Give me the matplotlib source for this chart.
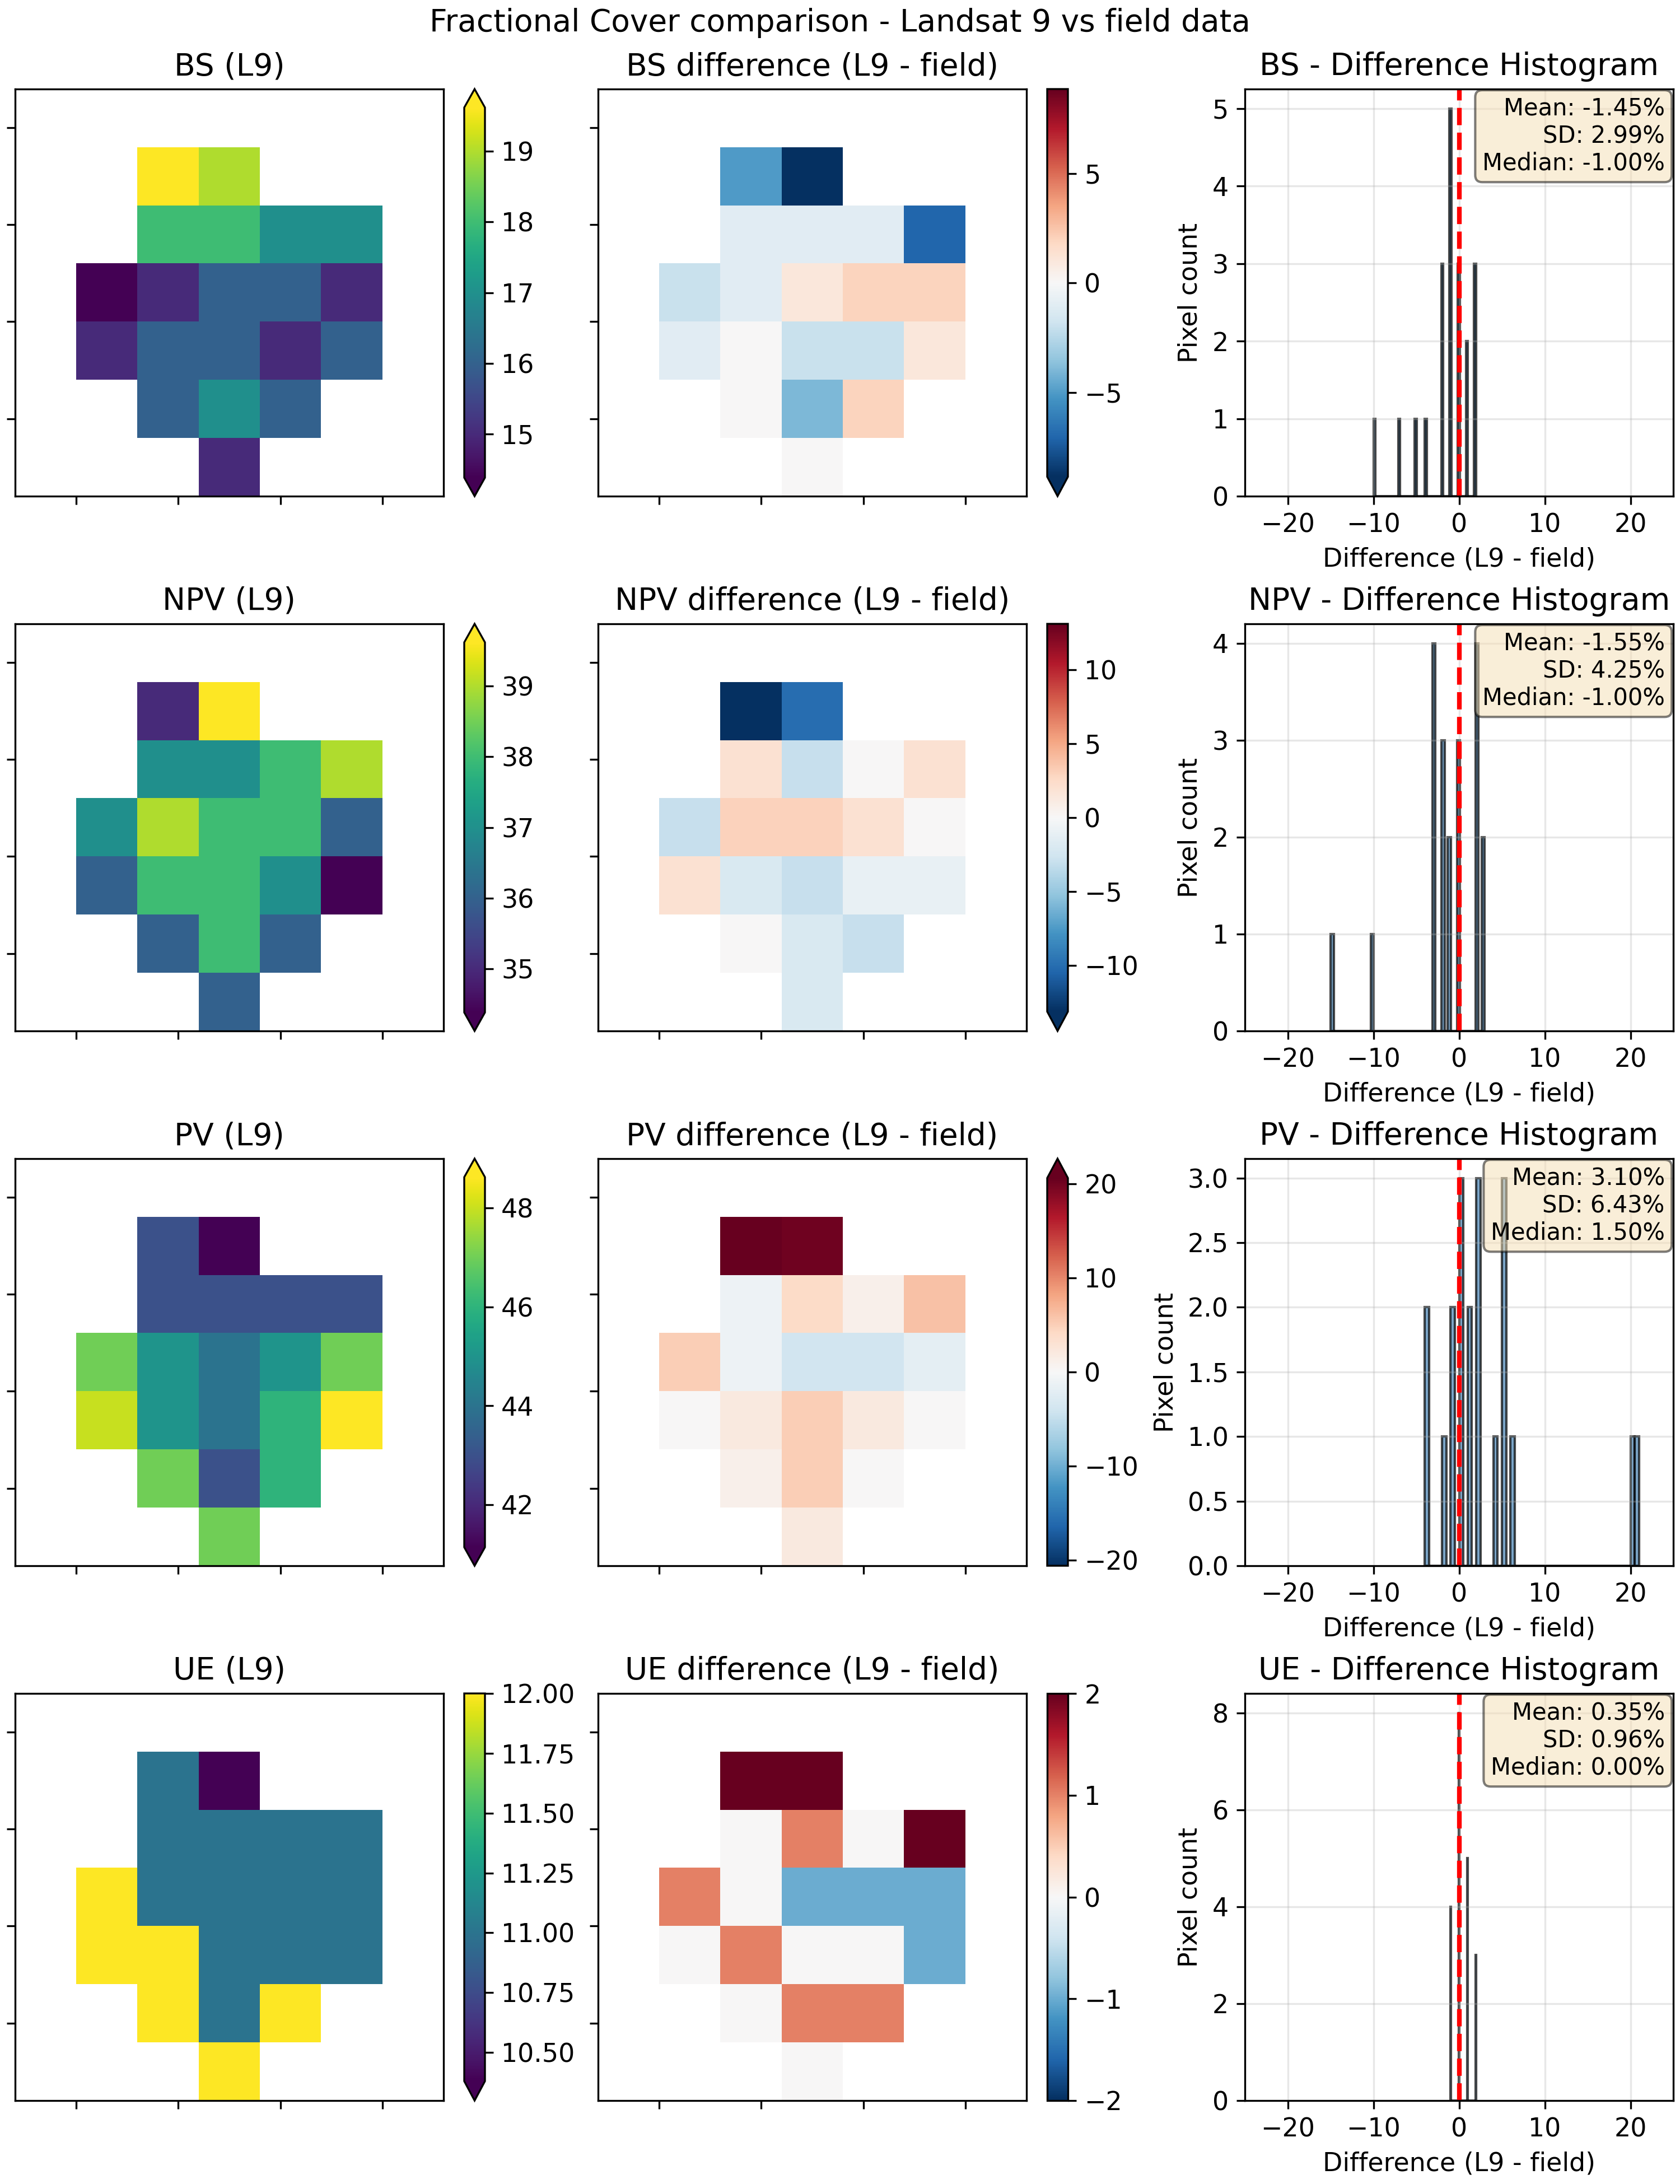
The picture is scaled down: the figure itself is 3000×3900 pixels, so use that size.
import numpy as np
import matplotlib
matplotlib.use('Agg')
import matplotlib.pyplot as plt

plt.rcParams['font.size'] = 11

nan = np.nan

# 7x7 pixel grids around the field site, NaN = outside the site
bs_l9 = [[nan, nan, nan, nan, nan, nan, nan],
         [nan, nan, 20, 19, nan, nan, nan],
         [nan, nan, 18, 18, 17, 17, nan],
         [nan, 14, 15, 16, 16, 15, nan],
         [nan, 15, 16, 16, 15, 16, nan],
         [nan, nan, 16, 17, 16, nan, nan],
         [nan, nan, nan, 15, nan, nan, nan]]
bs_diff = [[nan, nan, nan, nan, nan, nan, nan],
           [nan, nan, -5, -10, nan, nan, nan],
           [nan, nan, -1, -1, -1, -7, nan],
           [nan, -2, -1, 1, 2, 2, nan],
           [nan, -1, 0, -2, -2, 1, nan],
           [nan, nan, 0, -4, 2, nan, nan],
           [nan, nan, nan, 0, nan, nan, nan]]

npv_l9 = [[nan, nan, nan, nan, nan, nan, nan],
          [nan, nan, 35, 40, nan, nan, nan],
          [nan, nan, 37, 37, 38, 39, nan],
          [nan, 37, 39, 38, 38, 36, nan],
          [nan, 36, 38, 38, 37, 34, nan],
          [nan, nan, 36, 38, 36, nan, nan],
          [nan, nan, nan, 36, nan, nan, nan]]
npv_diff = [[nan, nan, nan, nan, nan, nan, nan],
            [nan, nan, -15, -10, nan, nan, nan],
            [nan, nan, 2, -3, 0, 2, nan],
            [nan, -3, 3, 3, 2, 0, nan],
            [nan, 2, -2, -3, -1, -1, nan],
            [nan, nan, 0, -2, -3, nan, nan],
            [nan, nan, nan, -2, nan, nan, nan]]

pv_l9 = [[nan, nan, nan, nan, nan, nan, nan],
         [nan, nan, 43, 40, nan, nan, nan],
         [nan, nan, 43, 43, 43, 43, nan],
         [nan, 47, 45, 44, 45, 47, nan],
         [nan, 48, 45, 44, 46, 49, nan],
         [nan, nan, 47, 43, 46, nan, nan],
         [nan, nan, nan, 47, nan, nan, nan]]
pv_diff = [[nan, nan, nan, nan, nan, nan, nan],
           [nan, nan, 21, 20, nan, nan, nan],
           [nan, nan, -1, 4, 1, 6, nan],
           [nan, 5, -1, -4, -4, -2, nan],
           [nan, 0, 2, 5, 2, 0, nan],
           [nan, nan, 1, 5, 0, nan, nan],
           [nan, nan, nan, 2, nan, nan, nan]]

ue_l9 = [[nan, nan, nan, nan, nan, nan, nan],
         [nan, nan, 11, 10, nan, nan, nan],
         [nan, nan, 11, 11, 11, 11, nan],
         [nan, 12, 11, 11, 11, 11, nan],
         [nan, 12, 12, 11, 11, 11, nan],
         [nan, nan, 12, 11, 12, nan, nan],
         [nan, nan, nan, 12, nan, nan, nan]]
ue_diff = [[nan, nan, nan, nan, nan, nan, nan],
           [nan, nan, 2, 2, nan, nan, nan],
           [nan, nan, 0, 1, 0, 2, nan],
           [nan, 1, 0, -1, -1, -1, nan],
           [nan, 0, 1, 0, 0, -1, nan],
           [nan, nan, 0, 1, 1, nan, nan],
           [nan, nan, nan, 0, nan, nan, nan]]

fractions = ['BS', 'NPV', 'PV', 'UE']
l9_maps = [bs_l9, npv_l9, pv_l9, ue_l9]
diff_maps = [bs_diff, npv_diff, pv_diff, ue_diff]

# grid extent in metres (30 m pixels)
extent = [-30, 180, -40, 170]
grid_ticks = [0, 50, 100, 150]


def extend_mode(v, lo, hi):
    below = np.min(v) < lo
    above = np.max(v) > hi
    if below and above:
        return 'both'
    if below:
        return 'min'
    if above:
        return 'max'
    return 'neither'


# layout in pixels of the 3000x3900 output
W, H = 3000., 3900.
def box(x0, y0, w, h):
    return [x0/W, 1-(y0+h)/H, w/W, h/H]

col_x = [27, 1068, 2223]
cb_x = [829, 1870]
cb_w = 37
ax_w = 765
ax_h = 727
row_y = [159 + 955*i for i in range(4)]

fig = plt.figure(figsize=(10, 13), dpi=300)

for i, name in enumerate(fractions):
    y0 = row_y[i]
    l9 = np.array(l9_maps[i], dtype=float)
    diff = np.array(diff_maps[i], dtype=float)

    # L9 map
    ax = fig.add_axes(box(col_x[0], y0, ax_w, ax_h))
    v = l9[~np.isnan(l9)]
    vmin, vmax = np.percentile(v, [2, 98])
    im = ax.imshow(l9, cmap='viridis', vmin=vmin, vmax=vmax, extent=extent,
                   interpolation='nearest', aspect='auto')
    ax.set_title('%s (L9)' % name)
    ax.set_xticks(grid_ticks)
    ax.set_yticks(grid_ticks)
    ax.set_xticklabels([])
    ax.set_yticklabels([])
    cax = fig.add_axes(box(cb_x[0], y0, cb_w, ax_h))
    fig.colorbar(im, cax=cax, extend=extend_mode(v, vmin, vmax))

    # difference map
    ax = fig.add_axes(box(col_x[1], y0, ax_w, ax_h))
    d = diff[~np.isnan(diff)]
    dmax = np.percentile(np.abs(d), 98)
    im = ax.imshow(diff, cmap='RdBu_r', vmin=-dmax, vmax=dmax, extent=extent,
                   interpolation='nearest', aspect='auto')
    ax.set_title('%s difference (L9 - field)' % name)
    ax.set_xticks(grid_ticks)
    ax.set_yticks(grid_ticks)
    ax.set_xticklabels([])
    ax.set_yticklabels([])
    cax = fig.add_axes(box(cb_x[1], y0, cb_w, ax_h))
    fig.colorbar(im, cax=cax, extend=extend_mode(d, -dmax, dmax))

    # histogram of differences
    ax = fig.add_axes(box(col_x[2], y0, ax_w, ax_h))
    ax.hist(d, bins=50, color='steelblue', alpha=0.7, edgecolor='black')
    ax.axvline(0, color='red', linestyle='--', linewidth=2)
    ax.set_xlim(-25, 25)
    ax.set_xlabel('Difference (L9 - field)')
    ax.set_ylabel('Pixel count')
    ax.set_title('%s - Difference Histogram' % name)
    ax.grid(True, alpha=0.3)
    txt = 'Mean: %.2f%%\nSD: %.2f%%\nMedian: %.2f%%' % (np.mean(d), np.std(d), np.median(d))
    ax.text(0.98, 0.98, txt, transform=ax.transAxes, ha='right', va='top',
            fontsize=10, bbox=dict(boxstyle='round', facecolor='wheat', alpha=0.5))

fig.suptitle('Fractional Cover comparison - Landsat 9 vs field data',
             y=1-56/H, va='baseline')

fig.savefig('out.png', dpi=300)
